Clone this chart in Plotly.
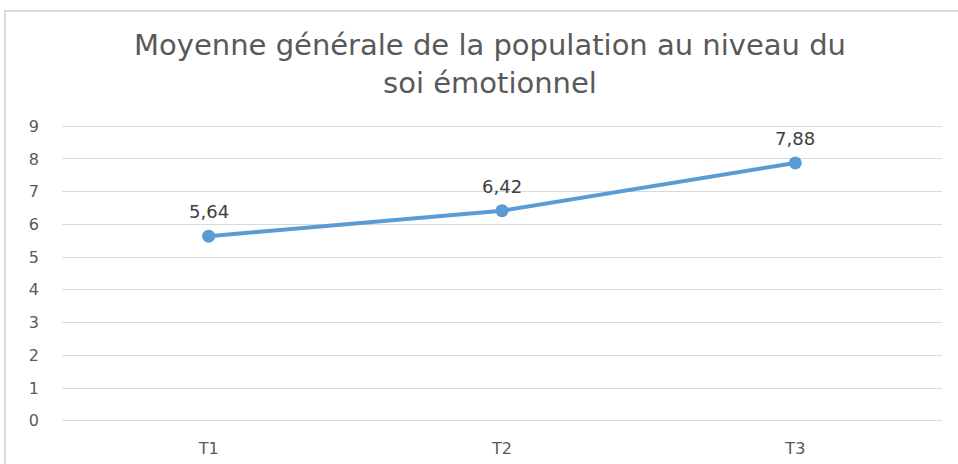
import plotly.graph_objects as go

categories = ["T1", "T2", "T3"]
moyennes = [5.64, 6.42, 7.88]
y_ticks = list(range(0, 10))

W, H = 958, 464
L, R, T, B = 62, 16, 123, 40
pw, ph = W - L - R, H - T - B

FONT = "DejaVu Sans"

fig = go.Figure(
    go.Scatter(
        x=categories,
        y=moyennes,
        mode="lines+markers",
        line=dict(color="#5B9BD5", width=4),
        marker=dict(color="#5B9BD5", size=13),
        cliponaxis=False,
        hoverinfo="skip",
    )
)

# value labels above each point
for c, v in zip(categories, moyennes):
    fig.add_annotation(
        x=c, y=v, xref="x", yref="y",
        text=f"{v:.2f}".replace(".", ","),
        showarrow=False,
        yanchor="bottom",
        yshift=12,
        font=dict(family=FONT, size=18, color="#404040"),
    )

# light grey chart frame (left and top edges visible)
fig.add_shape(
    type="rect",
    xref="paper", yref="paper",
    x0=(5 - L) / pw, x1=(W + 40 - L) / pw,
    y0=-(B + 40) / ph, y1=(H - B - 11) / ph,
    line=dict(color="#D9D9D9", width=2),
    fillcolor="rgba(0,0,0,0)",
    layer="below",
)

fig.update_layout(
    width=W, height=H,
    margin=dict(l=L, r=R, t=T, b=B, autoexpand=False),
    paper_bgcolor="white",
    plot_bgcolor="white",
    showlegend=False,
    title=dict(
        text="Moyenne générale de la population au niveau du<br>soi émotionnel",
        x=490 / W, xanchor="center",
        yref="container", y=1 - 55 / H, yanchor="top",
        font=dict(family=FONT, size=29, color="#595959"),
    ),
    xaxis=dict(
        type="category",
        range=[-0.5, 2.5],
        showgrid=False,
        zeroline=False,
        showline=False,
        ticks="",
        automargin=False,
        tickfont=dict(family=FONT, size=16, color="#595959"),
        ticklabelstandoff=13,
    ),
    yaxis=dict(
        range=[-0.1, 9.1],
        tickvals=y_ticks,
        showgrid=True,
        gridcolor="#D9D9D9",
        gridwidth=1,
        zeroline=False,
        showline=False,
        ticks="",
        automargin=False,
        tickfont=dict(family=FONT, size=16, color="#595959"),
        ticklabelstandoff=22,
    ),
)

fig.write_html("out.html")
